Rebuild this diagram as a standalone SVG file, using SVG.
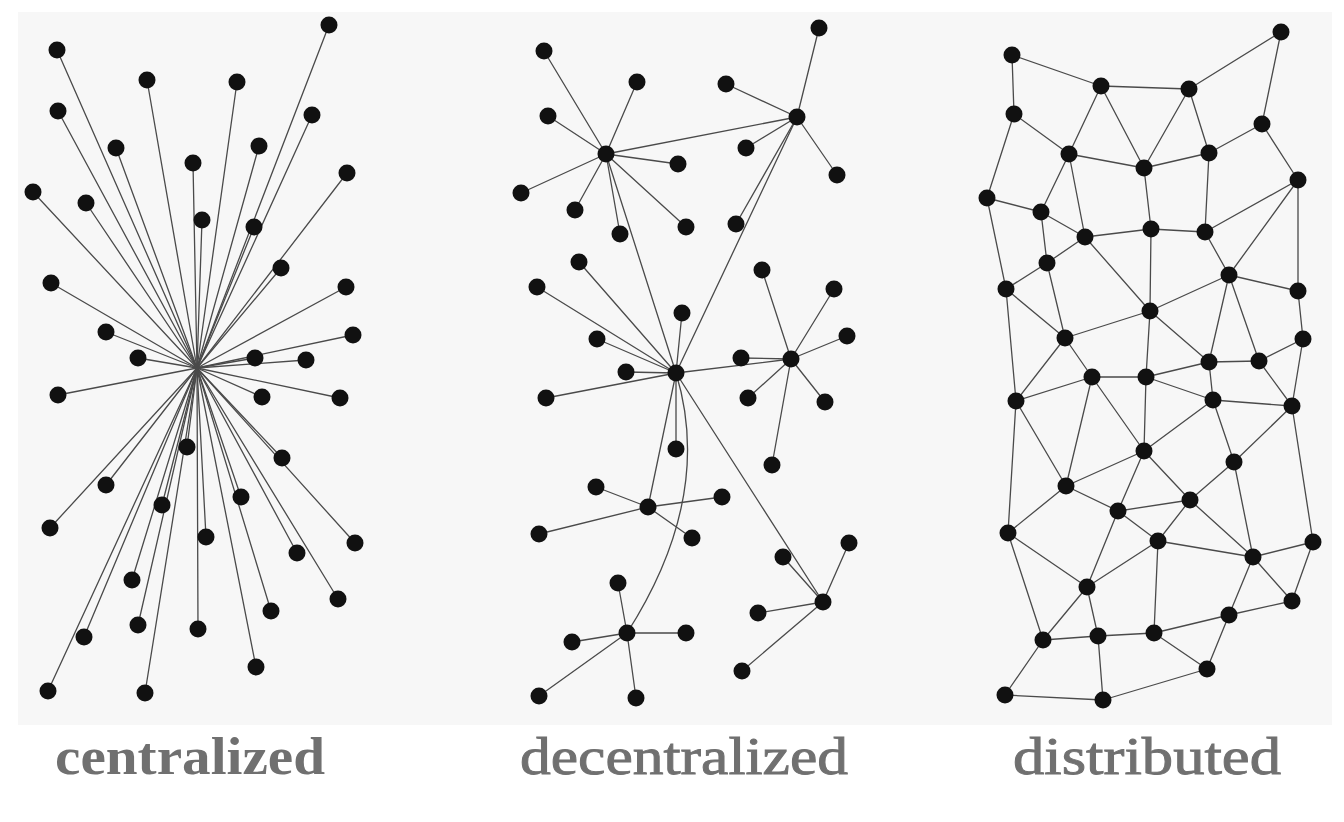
<svg xmlns="http://www.w3.org/2000/svg" xmlns:xlink="http://www.w3.org/1999/xlink" width="1344" height="822" viewBox="0 0 1344 822">
<style>
.e{stroke:#4a4a4a;stroke-width:1.3;fill:none;stroke-linecap:round}
.lbl{font-family:"Liberation Serif","DejaVu Serif",serif;font-size:52px;fill:#707070}
.thin{font-weight:normal;stroke:#707070;stroke-width:0.9}
</style>
<defs>
<circle id="dot" r="8.5" fill="#111"/>
</defs>
<rect width="1344" height="822" fill="#ffffff"/>
<rect x="18" y="12" width="1314" height="713" fill="#f7f7f7"/>

<g id="connectors">
<g id="centralized-edges">
<line class="e" x1="197" y1="368" x2="57" y2="50"/>
<line class="e" x1="197" y1="368" x2="329" y2="25"/>
<line class="e" x1="197" y1="368" x2="147" y2="80"/>
<line class="e" x1="197" y1="368" x2="237" y2="82"/>
<line class="e" x1="197" y1="368" x2="58" y2="111"/>
<line class="e" x1="197" y1="368" x2="312" y2="115"/>
<line class="e" x1="197" y1="368" x2="116" y2="148"/>
<line class="e" x1="197" y1="368" x2="259" y2="146"/>
<line class="e" x1="197" y1="368" x2="193" y2="163"/>
<line class="e" x1="197" y1="368" x2="347" y2="173"/>
<line class="e" x1="197" y1="368" x2="33" y2="192"/>
<line class="e" x1="197" y1="368" x2="86" y2="203"/>
<line class="e" x1="197" y1="368" x2="202" y2="220"/>
<line class="e" x1="197" y1="368" x2="254" y2="227"/>
<line class="e" x1="197" y1="368" x2="281" y2="268"/>
<line class="e" x1="197" y1="368" x2="51" y2="283"/>
<line class="e" x1="197" y1="368" x2="346" y2="287"/>
<line class="e" x1="197" y1="368" x2="106" y2="332"/>
<line class="e" x1="197" y1="368" x2="353" y2="335"/>
<line class="e" x1="197" y1="368" x2="138" y2="358"/>
<line class="e" x1="197" y1="368" x2="255" y2="358"/>
<line class="e" x1="197" y1="368" x2="306" y2="360"/>
<line class="e" x1="197" y1="368" x2="58" y2="395"/>
<line class="e" x1="197" y1="368" x2="262" y2="397"/>
<line class="e" x1="197" y1="368" x2="340" y2="398"/>
<line class="e" x1="197" y1="368" x2="187" y2="447"/>
<line class="e" x1="197" y1="368" x2="282" y2="458"/>
<line class="e" x1="197" y1="368" x2="106" y2="485"/>
<line class="e" x1="197" y1="368" x2="162" y2="505"/>
<line class="e" x1="197" y1="368" x2="241" y2="497"/>
<line class="e" x1="197" y1="368" x2="50" y2="528"/>
<line class="e" x1="197" y1="368" x2="206" y2="537"/>
<line class="e" x1="197" y1="368" x2="355" y2="543"/>
<line class="e" x1="197" y1="368" x2="297" y2="553"/>
<line class="e" x1="197" y1="368" x2="132" y2="580"/>
<line class="e" x1="197" y1="368" x2="338" y2="599"/>
<line class="e" x1="197" y1="368" x2="271" y2="611"/>
<line class="e" x1="197" y1="368" x2="138" y2="625"/>
<line class="e" x1="197" y1="368" x2="198" y2="629"/>
<line class="e" x1="197" y1="368" x2="84" y2="637"/>
<line class="e" x1="197" y1="368" x2="256" y2="667"/>
<line class="e" x1="197" y1="368" x2="48" y2="691"/>
<line class="e" x1="197" y1="368" x2="145" y2="693"/>
</g>
<g id="decentralized-edges">
<line class="e" x1="606" y1="154" x2="544" y2="51"/>
<line class="e" x1="606" y1="154" x2="637" y2="82"/>
<line class="e" x1="606" y1="154" x2="548" y2="116"/>
<line class="e" x1="606" y1="154" x2="678" y2="164"/>
<line class="e" x1="606" y1="154" x2="521" y2="193"/>
<line class="e" x1="606" y1="154" x2="575" y2="210"/>
<line class="e" x1="606" y1="154" x2="620" y2="234"/>
<line class="e" x1="606" y1="154" x2="686" y2="227"/>
<line class="e" x1="606" y1="154" x2="797" y2="117"/>
<line class="e" x1="606" y1="154" x2="676" y2="373"/>
<line class="e" x1="797" y1="117" x2="819" y2="28"/>
<line class="e" x1="797" y1="117" x2="726" y2="84"/>
<line class="e" x1="797" y1="117" x2="746" y2="148"/>
<line class="e" x1="797" y1="117" x2="837" y2="175"/>
<line class="e" x1="797" y1="117" x2="736" y2="224"/>
<line class="e" x1="797" y1="117" x2="676" y2="373"/>
<line class="e" x1="676" y1="373" x2="579" y2="262"/>
<line class="e" x1="676" y1="373" x2="537" y2="287"/>
<line class="e" x1="676" y1="373" x2="682" y2="313"/>
<line class="e" x1="676" y1="373" x2="597" y2="339"/>
<line class="e" x1="676" y1="373" x2="626" y2="372"/>
<line class="e" x1="676" y1="373" x2="546" y2="398"/>
<line class="e" x1="676" y1="373" x2="676" y2="449"/>
<line class="e" x1="676" y1="373" x2="791" y2="359"/>
<line class="e" x1="676" y1="373" x2="648" y2="507"/>
<line class="e" x1="676" y1="373" x2="823" y2="602"/>
<path class="e" d="M676,373 Q714,497 627,633"/>
<line class="e" x1="791" y1="359" x2="762" y2="270"/>
<line class="e" x1="791" y1="359" x2="834" y2="289"/>
<line class="e" x1="791" y1="359" x2="847" y2="336"/>
<line class="e" x1="791" y1="359" x2="741" y2="358"/>
<line class="e" x1="791" y1="359" x2="748" y2="398"/>
<line class="e" x1="791" y1="359" x2="825" y2="402"/>
<line class="e" x1="791" y1="359" x2="772" y2="465"/>
<line class="e" x1="648" y1="507" x2="596" y2="487"/>
<line class="e" x1="648" y1="507" x2="722" y2="497"/>
<line class="e" x1="648" y1="507" x2="539" y2="534"/>
<line class="e" x1="648" y1="507" x2="692" y2="538"/>
<line class="e" x1="627" y1="633" x2="618" y2="583"/>
<line class="e" x1="627" y1="633" x2="686" y2="633"/>
<line class="e" x1="627" y1="633" x2="572" y2="642"/>
<line class="e" x1="627" y1="633" x2="539" y2="696"/>
<line class="e" x1="627" y1="633" x2="636" y2="698"/>
<line class="e" x1="823" y1="602" x2="849" y2="543"/>
<line class="e" x1="823" y1="602" x2="783" y2="557"/>
<line class="e" x1="823" y1="602" x2="758" y2="613"/>
<line class="e" x1="823" y1="602" x2="742" y2="671"/>
</g>
<g id="distributed-edges">
<line class="e" x1="1012" y1="55" x2="1101" y2="86"/>
<line class="e" x1="1012" y1="55" x2="1014" y2="114"/>
<line class="e" x1="1101" y1="86" x2="1189" y2="89"/>
<line class="e" x1="1189" y1="89" x2="1281" y2="32"/>
<line class="e" x1="1281" y1="32" x2="1262" y2="124"/>
<line class="e" x1="1101" y1="86" x2="1069" y2="154"/>
<line class="e" x1="1101" y1="86" x2="1144" y2="168"/>
<line class="e" x1="1189" y1="89" x2="1144" y2="168"/>
<line class="e" x1="1189" y1="89" x2="1209" y2="153"/>
<line class="e" x1="1014" y1="114" x2="1069" y2="154"/>
<line class="e" x1="1014" y1="114" x2="987" y2="198"/>
<line class="e" x1="1069" y1="154" x2="1144" y2="168"/>
<line class="e" x1="1144" y1="168" x2="1209" y2="153"/>
<line class="e" x1="1209" y1="153" x2="1262" y2="124"/>
<line class="e" x1="1262" y1="124" x2="1298" y2="180"/>
<line class="e" x1="1069" y1="154" x2="1041" y2="212"/>
<line class="e" x1="1069" y1="154" x2="1085" y2="237"/>
<line class="e" x1="987" y1="198" x2="1041" y2="212"/>
<line class="e" x1="1041" y1="212" x2="1085" y2="237"/>
<line class="e" x1="1041" y1="212" x2="1047" y2="263"/>
<line class="e" x1="1144" y1="168" x2="1151" y2="229"/>
<line class="e" x1="1209" y1="153" x2="1205" y2="232"/>
<line class="e" x1="1085" y1="237" x2="1151" y2="229"/>
<line class="e" x1="1151" y1="229" x2="1205" y2="232"/>
<line class="e" x1="1298" y1="180" x2="1205" y2="232"/>
<line class="e" x1="1298" y1="180" x2="1229" y2="275"/>
<line class="e" x1="1298" y1="180" x2="1298" y2="291"/>
<line class="e" x1="1085" y1="237" x2="1047" y2="263"/>
<line class="e" x1="1085" y1="237" x2="1150" y2="311"/>
<line class="e" x1="1151" y1="229" x2="1150" y2="311"/>
<line class="e" x1="1205" y1="232" x2="1229" y2="275"/>
<line class="e" x1="987" y1="198" x2="1006" y2="289"/>
<line class="e" x1="1047" y1="263" x2="1006" y2="289"/>
<line class="e" x1="1047" y1="263" x2="1065" y2="338"/>
<line class="e" x1="1006" y1="289" x2="1065" y2="338"/>
<line class="e" x1="1150" y1="311" x2="1065" y2="338"/>
<line class="e" x1="1150" y1="311" x2="1229" y2="275"/>
<line class="e" x1="1229" y1="275" x2="1298" y2="291"/>
<line class="e" x1="1150" y1="311" x2="1146" y2="377"/>
<line class="e" x1="1150" y1="311" x2="1209" y2="362"/>
<line class="e" x1="1229" y1="275" x2="1209" y2="362"/>
<line class="e" x1="1229" y1="275" x2="1259" y2="361"/>
<line class="e" x1="1298" y1="291" x2="1303" y2="339"/>
<line class="e" x1="1303" y1="339" x2="1259" y2="361"/>
<line class="e" x1="1209" y1="362" x2="1259" y2="361"/>
<line class="e" x1="1065" y1="338" x2="1092" y2="377"/>
<line class="e" x1="1065" y1="338" x2="1016" y2="401"/>
<line class="e" x1="1006" y1="289" x2="1016" y2="401"/>
<line class="e" x1="1092" y1="377" x2="1146" y2="377"/>
<line class="e" x1="1146" y1="377" x2="1209" y2="362"/>
<line class="e" x1="1146" y1="377" x2="1213" y2="400"/>
<line class="e" x1="1209" y1="362" x2="1213" y2="400"/>
<line class="e" x1="1259" y1="361" x2="1292" y2="406"/>
<line class="e" x1="1303" y1="339" x2="1292" y2="406"/>
<line class="e" x1="1213" y1="400" x2="1292" y2="406"/>
<line class="e" x1="1092" y1="377" x2="1016" y2="401"/>
<line class="e" x1="1092" y1="377" x2="1144" y2="451"/>
<line class="e" x1="1146" y1="377" x2="1144" y2="451"/>
<line class="e" x1="1213" y1="400" x2="1144" y2="451"/>
<line class="e" x1="1213" y1="400" x2="1234" y2="462"/>
<line class="e" x1="1292" y1="406" x2="1234" y2="462"/>
<line class="e" x1="1092" y1="377" x2="1066" y2="486"/>
<line class="e" x1="1016" y1="401" x2="1066" y2="486"/>
<line class="e" x1="1144" y1="451" x2="1066" y2="486"/>
<line class="e" x1="1016" y1="401" x2="1008" y2="533"/>
<line class="e" x1="1144" y1="451" x2="1118" y2="511"/>
<line class="e" x1="1144" y1="451" x2="1190" y2="500"/>
<line class="e" x1="1234" y1="462" x2="1190" y2="500"/>
<line class="e" x1="1234" y1="462" x2="1253" y2="557"/>
<line class="e" x1="1292" y1="406" x2="1313" y2="542"/>
<line class="e" x1="1066" y1="486" x2="1008" y2="533"/>
<line class="e" x1="1066" y1="486" x2="1118" y2="511"/>
<line class="e" x1="1118" y1="511" x2="1190" y2="500"/>
<line class="e" x1="1118" y1="511" x2="1158" y2="541"/>
<line class="e" x1="1190" y1="500" x2="1158" y2="541"/>
<line class="e" x1="1190" y1="500" x2="1253" y2="557"/>
<line class="e" x1="1158" y1="541" x2="1253" y2="557"/>
<line class="e" x1="1313" y1="542" x2="1253" y2="557"/>
<line class="e" x1="1313" y1="542" x2="1292" y2="601"/>
<line class="e" x1="1253" y1="557" x2="1292" y2="601"/>
<line class="e" x1="1253" y1="557" x2="1229" y2="615"/>
<line class="e" x1="1008" y1="533" x2="1087" y2="587"/>
<line class="e" x1="1118" y1="511" x2="1087" y2="587"/>
<line class="e" x1="1158" y1="541" x2="1087" y2="587"/>
<line class="e" x1="1158" y1="541" x2="1154" y2="633"/>
<line class="e" x1="1008" y1="533" x2="1043" y2="640"/>
<line class="e" x1="1087" y1="587" x2="1043" y2="640"/>
<line class="e" x1="1087" y1="587" x2="1098" y2="636"/>
<line class="e" x1="1043" y1="640" x2="1098" y2="636"/>
<line class="e" x1="1098" y1="636" x2="1154" y2="633"/>
<line class="e" x1="1154" y1="633" x2="1229" y2="615"/>
<line class="e" x1="1229" y1="615" x2="1292" y2="601"/>
<line class="e" x1="1154" y1="633" x2="1207" y2="669"/>
<line class="e" x1="1229" y1="615" x2="1207" y2="669"/>
<line class="e" x1="1043" y1="640" x2="1005" y2="695"/>
<line class="e" x1="1098" y1="636" x2="1103" y2="700"/>
<line class="e" x1="1005" y1="695" x2="1103" y2="700"/>
<line class="e" x1="1103" y1="700" x2="1207" y2="669"/>
</g>
</g>

<g id="centralized-nodes">
<g id="c1"><use href="#dot" x="57" y="50"/></g>
<g id="c2"><use href="#dot" x="329" y="25"/></g>
<g id="c3"><use href="#dot" x="147" y="80"/></g>
<g id="c4"><use href="#dot" x="237" y="82"/></g>
<g id="c5"><use href="#dot" x="58" y="111"/></g>
<g id="c6"><use href="#dot" x="312" y="115"/></g>
<g id="c7"><use href="#dot" x="116" y="148"/></g>
<g id="c8"><use href="#dot" x="259" y="146"/></g>
<g id="c9"><use href="#dot" x="193" y="163"/></g>
<g id="c10"><use href="#dot" x="347" y="173"/></g>
<g id="c11"><use href="#dot" x="33" y="192"/></g>
<g id="c12"><use href="#dot" x="86" y="203"/></g>
<g id="c13"><use href="#dot" x="202" y="220"/></g>
<g id="c14"><use href="#dot" x="254" y="227"/></g>
<g id="c15"><use href="#dot" x="281" y="268"/></g>
<g id="c16"><use href="#dot" x="51" y="283"/></g>
<g id="c17"><use href="#dot" x="346" y="287"/></g>
<g id="c18"><use href="#dot" x="106" y="332"/></g>
<g id="c19"><use href="#dot" x="353" y="335"/></g>
<g id="c20"><use href="#dot" x="138" y="358"/></g>
<g id="c21"><use href="#dot" x="255" y="358"/></g>
<g id="c22"><use href="#dot" x="306" y="360"/></g>
<g id="c23"><use href="#dot" x="58" y="395"/></g>
<g id="c24"><use href="#dot" x="262" y="397"/></g>
<g id="c25"><use href="#dot" x="340" y="398"/></g>
<g id="c26"><use href="#dot" x="187" y="447"/></g>
<g id="c27"><use href="#dot" x="282" y="458"/></g>
<g id="c28"><use href="#dot" x="106" y="485"/></g>
<g id="c29"><use href="#dot" x="162" y="505"/></g>
<g id="c30"><use href="#dot" x="241" y="497"/></g>
<g id="c31"><use href="#dot" x="50" y="528"/></g>
<g id="c32"><use href="#dot" x="206" y="537"/></g>
<g id="c33"><use href="#dot" x="355" y="543"/></g>
<g id="c34"><use href="#dot" x="297" y="553"/></g>
<g id="c35"><use href="#dot" x="132" y="580"/></g>
<g id="c36"><use href="#dot" x="338" y="599"/></g>
<g id="c37"><use href="#dot" x="271" y="611"/></g>
<g id="c38"><use href="#dot" x="138" y="625"/></g>
<g id="c39"><use href="#dot" x="198" y="629"/></g>
<g id="c40"><use href="#dot" x="84" y="637"/></g>
<g id="c41"><use href="#dot" x="256" y="667"/></g>
<g id="c42"><use href="#dot" x="48" y="691"/></g>
<g id="c43"><use href="#dot" x="145" y="693"/></g>
</g>

<g id="decentralized-nodes">
<g id="h1"><use href="#dot" x="606" y="154"/></g>
<g id="h2"><use href="#dot" x="797" y="117"/></g>
<g id="h3"><use href="#dot" x="676" y="373"/></g>
<g id="h4"><use href="#dot" x="791" y="359"/></g>
<g id="h5"><use href="#dot" x="648" y="507"/></g>
<g id="h6"><use href="#dot" x="627" y="633"/></g>
<g id="h7"><use href="#dot" x="823" y="602"/></g>
<g id="d1"><use href="#dot" x="544" y="51"/></g>
<g id="d2"><use href="#dot" x="637" y="82"/></g>
<g id="d3"><use href="#dot" x="548" y="116"/></g>
<g id="d4"><use href="#dot" x="678" y="164"/></g>
<g id="d5"><use href="#dot" x="521" y="193"/></g>
<g id="d6"><use href="#dot" x="575" y="210"/></g>
<g id="d7"><use href="#dot" x="620" y="234"/></g>
<g id="d8"><use href="#dot" x="686" y="227"/></g>
<g id="d9"><use href="#dot" x="819" y="28"/></g>
<g id="d10"><use href="#dot" x="726" y="84"/></g>
<g id="d11"><use href="#dot" x="746" y="148"/></g>
<g id="d12"><use href="#dot" x="837" y="175"/></g>
<g id="d13"><use href="#dot" x="736" y="224"/></g>
<g id="d14"><use href="#dot" x="579" y="262"/></g>
<g id="d15"><use href="#dot" x="537" y="287"/></g>
<g id="d16"><use href="#dot" x="682" y="313"/></g>
<g id="d17"><use href="#dot" x="597" y="339"/></g>
<g id="d18"><use href="#dot" x="626" y="372"/></g>
<g id="d19"><use href="#dot" x="546" y="398"/></g>
<g id="d20"><use href="#dot" x="676" y="449"/></g>
<g id="d21"><use href="#dot" x="762" y="270"/></g>
<g id="d22"><use href="#dot" x="834" y="289"/></g>
<g id="d23"><use href="#dot" x="847" y="336"/></g>
<g id="d24"><use href="#dot" x="741" y="358"/></g>
<g id="d25"><use href="#dot" x="748" y="398"/></g>
<g id="d26"><use href="#dot" x="825" y="402"/></g>
<g id="d27"><use href="#dot" x="772" y="465"/></g>
<g id="d28"><use href="#dot" x="596" y="487"/></g>
<g id="d29"><use href="#dot" x="722" y="497"/></g>
<g id="d30"><use href="#dot" x="539" y="534"/></g>
<g id="d31"><use href="#dot" x="692" y="538"/></g>
<g id="d32"><use href="#dot" x="618" y="583"/></g>
<g id="d33"><use href="#dot" x="686" y="633"/></g>
<g id="d34"><use href="#dot" x="572" y="642"/></g>
<g id="d35"><use href="#dot" x="539" y="696"/></g>
<g id="d36"><use href="#dot" x="636" y="698"/></g>
<g id="d37"><use href="#dot" x="849" y="543"/></g>
<g id="d38"><use href="#dot" x="783" y="557"/></g>
<g id="d39"><use href="#dot" x="758" y="613"/></g>
<g id="d40"><use href="#dot" x="742" y="671"/></g>
</g>

<g id="distributed-nodes">
<g id="n1"><use href="#dot" x="1012" y="55"/></g>
<g id="n2"><use href="#dot" x="1101" y="86"/></g>
<g id="n3"><use href="#dot" x="1189" y="89"/></g>
<g id="n4"><use href="#dot" x="1281" y="32"/></g>
<g id="n5"><use href="#dot" x="1014" y="114"/></g>
<g id="n6"><use href="#dot" x="1262" y="124"/></g>
<g id="n7"><use href="#dot" x="1069" y="154"/></g>
<g id="n8"><use href="#dot" x="1144" y="168"/></g>
<g id="n9"><use href="#dot" x="1209" y="153"/></g>
<g id="n10"><use href="#dot" x="1298" y="180"/></g>
<g id="n11"><use href="#dot" x="987" y="198"/></g>
<g id="n12"><use href="#dot" x="1041" y="212"/></g>
<g id="n13"><use href="#dot" x="1085" y="237"/></g>
<g id="n14"><use href="#dot" x="1151" y="229"/></g>
<g id="n15"><use href="#dot" x="1205" y="232"/></g>
<g id="n16"><use href="#dot" x="1047" y="263"/></g>
<g id="n17"><use href="#dot" x="1229" y="275"/></g>
<g id="n18"><use href="#dot" x="1006" y="289"/></g>
<g id="n19"><use href="#dot" x="1298" y="291"/></g>
<g id="n20"><use href="#dot" x="1150" y="311"/></g>
<g id="n21"><use href="#dot" x="1065" y="338"/></g>
<g id="n22"><use href="#dot" x="1209" y="362"/></g>
<g id="n23"><use href="#dot" x="1259" y="361"/></g>
<g id="n24"><use href="#dot" x="1303" y="339"/></g>
<g id="n25"><use href="#dot" x="1092" y="377"/></g>
<g id="n26"><use href="#dot" x="1146" y="377"/></g>
<g id="n27"><use href="#dot" x="1016" y="401"/></g>
<g id="n28"><use href="#dot" x="1213" y="400"/></g>
<g id="n29"><use href="#dot" x="1292" y="406"/></g>
<g id="n30"><use href="#dot" x="1144" y="451"/></g>
<g id="n31"><use href="#dot" x="1234" y="462"/></g>
<g id="n32"><use href="#dot" x="1066" y="486"/></g>
<g id="n33"><use href="#dot" x="1190" y="500"/></g>
<g id="n34"><use href="#dot" x="1118" y="511"/></g>
<g id="n35"><use href="#dot" x="1008" y="533"/></g>
<g id="n36"><use href="#dot" x="1158" y="541"/></g>
<g id="n37"><use href="#dot" x="1313" y="542"/></g>
<g id="n38"><use href="#dot" x="1253" y="557"/></g>
<g id="n39"><use href="#dot" x="1087" y="587"/></g>
<g id="n40"><use href="#dot" x="1292" y="601"/></g>
<g id="n41"><use href="#dot" x="1229" y="615"/></g>
<g id="n42"><use href="#dot" x="1043" y="640"/></g>
<g id="n43"><use href="#dot" x="1098" y="636"/></g>
<g id="n44"><use href="#dot" x="1154" y="633"/></g>
<g id="n45"><use href="#dot" x="1207" y="669"/></g>
<g id="n46"><use href="#dot" x="1005" y="695"/></g>
<g id="n47"><use href="#dot" x="1103" y="700"/></g>
</g>

<g id="labels">
<text class="lbl" x="55" y="774" font-weight="bold" textLength="270" lengthAdjust="spacingAndGlyphs">centralized</text>
<text class="lbl thin" x="520" y="774" textLength="328" lengthAdjust="spacingAndGlyphs">decentralized</text>
<text class="lbl thin" x="1013" y="774" textLength="268" lengthAdjust="spacingAndGlyphs">distributed</text>
</g>
</svg>
